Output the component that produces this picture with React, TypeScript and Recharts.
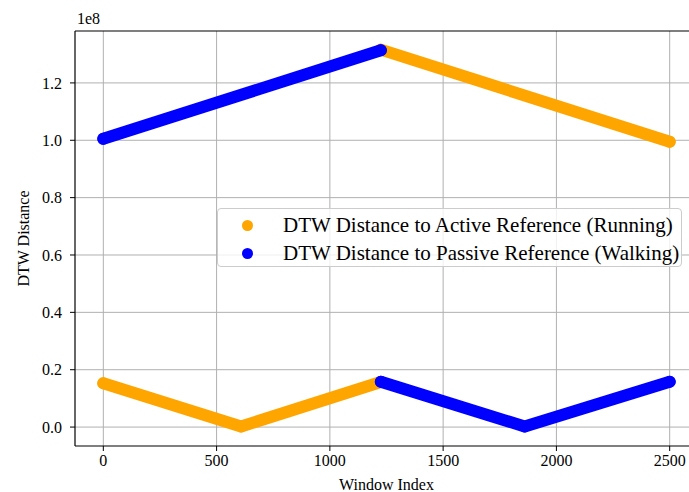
import { ScatterChart, Scatter, XAxis, YAxis, ReferenceLine, Legend } from "recharts";

// window index / DTW distance pairs for each traced segment
const activeLowIdx = [0, 608, 1225];
const activeLowDist = [1.53e7, 2e5, 1.57e7];
const activeHighIdx = [1225, 2500];
const activeHighDist = [1.316e8, 0.995e8];

const passiveHighIdx = [0, 1225];
const passiveHighDist = [1.005e8, 1.314e8];
const passiveLowIdx = [1225, 1860, 2500];
const passiveLowDist = [1.58e7, 2e5, 1.58e7];

const xTicks = [0, 500, 1000, 1500, 2000, 2500];
const yTicks = [0, 0.2e8, 0.4e8, 0.6e8, 0.8e8, 1.0e8, 1.2e8];

const ACTIVE_LABEL = "DTW Distance to Active Reference (Running)";
const PASSIVE_LABEL = "DTW Distance to Passive Reference (Walking)";
const ORANGE = "#ffa500";
const BLUE = "#0000ff";
const FONT = "'Liberation Serif', 'Times New Roman', serif";

const X_DOMAIN: [number, number] = [-125, 2625];
const Y_DOMAIN: [number, number] = [-0.066e8, 1.381e8];

const toPoints = (xs: number[], ys: number[]) => xs.map((x, i) => ({ x, y: ys[i] }));

const dot = (color: string) => (props: any) => (
  <circle cx={props.cx} cy={props.cy} r={6} fill={color} />
);

const band = (color: string) => ({
  stroke: color,
  strokeWidth: 12,
  strokeLinecap: "round" as const,
  strokeLinejoin: "round" as const,
});

const LegendBox = () => (
  <div
    style={{
      position: "absolute",
      left: 217,
      top: 208,
      width: 465,
      height: 59,
      boxSizing: "border-box",
      border: "1px solid #cccccc",
      borderRadius: 4,
      background: "rgba(255,255,255,0.8)",
      fontFamily: FONT,
      fontSize: 21,
      color: "#000",
    }}
  >
    {[
      { name: ACTIVE_LABEL, color: ORANGE },
      { name: PASSIVE_LABEL, color: BLUE },
    ].map((e, i) => (
      <div
        key={e.name}
        style={{ position: "absolute", left: 0, top: 2 + i * 28, height: 28, display: "flex", alignItems: "center", whiteSpace: "nowrap" }}
      >
        <span
          style={{ display: "inline-block", width: 11, height: 11, borderRadius: "50%", background: e.color, marginLeft: 24, marginRight: 30 }}
        />
        <span>{e.name}</span>
      </div>
    ))}
  </div>
);

const tickStyle = { fontFamily: FONT, fontSize: 16, fill: "#000" };

export default function App() {
  return (
    <div style={{ position: "absolute", left: 0, top: 0, width: 689, height: 492, overflow: "hidden", background: "#fff" }}>
      <ScatterChart width={700} height={492} margin={{ top: 31, right: 2, bottom: 16, left: 15 }}>
        <XAxis
          type="number"
          dataKey="x"
          domain={X_DOMAIN}
          ticks={xTicks}
          allowDataOverflow
          tick={tickStyle}
          tickSize={5}
          tickMargin={4}
          height={30}
          axisLine={{ stroke: "#000", strokeWidth: 1.2 }}
          tickLine={{ stroke: "#000" }}
          label={{
            content: ({ viewBox }: any) => (
              <text
                x={viewBox.x + viewBox.width / 2}
                y={viewBox.y + 44}
                textAnchor="middle"
                style={{ fontFamily: FONT, fontSize: 16 }}
              >
                Window Index
              </text>
            ),
          }}
        />
        <YAxis
          type="number"
          dataKey="y"
          domain={Y_DOMAIN}
          ticks={yTicks}
          allowDataOverflow
          width={60}
          tick={tickStyle}
          tickSize={5}
          tickMargin={8}
          tickFormatter={(v: number) => (v / 1e8).toFixed(1)}
          axisLine={{ stroke: "#000", strokeWidth: 1.2 }}
          tickLine={{ stroke: "#000" }}
          label={{
            content: ({ viewBox }: any) => {
              const cx = viewBox.x + 8;
              const cy = viewBox.y + viewBox.height / 2;
              return (
                <g>
                  <text
                    x={cx}
                    y={cy}
                    transform={`rotate(-90 ${cx} ${cy})`}
                    textAnchor="middle"
                    dominantBaseline="central"
                    style={{ fontFamily: FONT, fontSize: 16 }}
                  >
                    DTW Distance
                  </text>
                  <text x={viewBox.x + viewBox.width + 2} y={viewBox.y - 7} style={{ fontFamily: FONT, fontSize: 16 }}>
                    1e8
                  </text>
                </g>
              );
            },
          }}
        />
        <Scatter
          name={ACTIVE_LABEL}
          data={toPoints(activeLowIdx, activeLowDist)}
          fill={ORANGE}
          line={band(ORANGE)}
          lineType="joint"
          shape={dot(ORANGE)}
          isAnimationActive={false}
        />
        <Scatter
          name={ACTIVE_LABEL}
          data={toPoints(activeHighIdx, activeHighDist)}
          fill={ORANGE}
          line={band(ORANGE)}
          lineType="joint"
          shape={dot(ORANGE)}
          isAnimationActive={false}
        />
        <Scatter
          name={PASSIVE_LABEL}
          data={toPoints(passiveHighIdx, passiveHighDist)}
          fill={BLUE}
          line={band(BLUE)}
          lineType="joint"
          shape={dot(BLUE)}
          isAnimationActive={false}
        />
        <Scatter
          name={PASSIVE_LABEL}
          data={toPoints(passiveLowIdx, passiveLowDist)}
          fill={BLUE}
          line={band(BLUE)}
          lineType="joint"
          shape={dot(BLUE)}
          isAnimationActive={false}
        />
        {/* grid sits on top of the markers */}
        {xTicks.map((t) => (
          <ReferenceLine key={`gx${t}`} x={t} stroke="#b0b0b0" strokeWidth={1} />
        ))}
        {yTicks.map((t) => (
          <ReferenceLine key={`gy${t}`} y={t} stroke="#b0b0b0" strokeWidth={1} />
        ))}
        <ReferenceLine y={Y_DOMAIN[1]} stroke="#000" strokeWidth={1.2} />
        <Legend layout="vertical" verticalAlign="middle" align="center" content={() => null} />
      </ScatterChart>
      <LegendBox />
    </div>
  );
}
